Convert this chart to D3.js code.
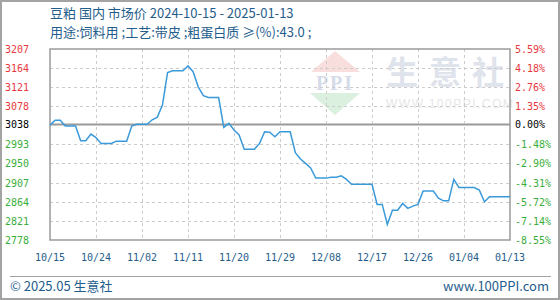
<!DOCTYPE html>
<html>
<head>
<meta charset="utf-8">
<style>
  body {margin: 0; background: #fff;}
  text {font-family: "Noto Sans CJK SC", "Noto Sans", sans-serif;}
  .num {font-family: "DejaVu Sans Mono", monospace; font-size: 10px;}
</style>
<script src="https://d3js.org/d3.v7.min.js"></script>
</head>
<body>
<div id="chart"></div>
<script>

  // price data
  const dates = ['2024-10-15','2024-10-16','2024-10-17','2024-10-18','2024-10-20','2024-10-21','2024-10-22','2024-10-23',
    '2024-10-24','2024-10-25','2024-10-27','2024-10-28','2024-10-30','2024-10-31','2024-11-01','2024-11-03',
    '2024-11-04','2024-11-05','2024-11-06','2024-11-07','2024-11-08','2024-11-10','2024-11-11','2024-11-12',
    '2024-11-13','2024-11-14','2024-11-15','2024-11-17','2024-11-18','2024-11-19','2024-11-20','2024-11-21',
    '2024-11-22','2024-11-24','2024-11-25','2024-11-26','2024-11-27','2024-11-28','2024-11-29','2024-12-01',
    '2024-12-02','2024-12-03','2024-12-04','2024-12-05','2024-12-06','2024-12-08','2024-12-09','2024-12-10',
    '2024-12-11','2024-12-12','2024-12-13','2024-12-17','2024-12-18','2024-12-19','2024-12-20','2024-12-21',
    '2024-12-22','2024-12-23','2024-12-24','2024-12-25','2024-12-26','2024-12-27','2024-12-29','2024-12-30',
    '2024-12-31','2025-01-01','2025-01-02','2025-01-03','2025-01-06','2025-01-07','2025-01-08','2025-01-09',
    '2025-01-13']
  const prices = [3036,3047,3047,3034,3034,3001,3001,3016,
    3008,2995,2995,3000,3000,3034,3038,3038,
    3048,3054,3081,3154,3158,3158,3169,3156,
    3122,3102,3098,3098,3031,3040,3025,3014,
    2982,2982,2995,3021,3020,3010,3021,3021,
    2974,2960,2950,2940,2917,2917,2919,2919,
    2922,2914,2903,2903,2858,2858,2813,2845,
    2845,2860,2849,2854,2858,2888,2888,2872,
    2866,2866,2914,2896,2896,2890,2864,2875,
    2875]

  const xTickLabels = ['10/15','10/24','11/02','11/11','11/20','11/29','12/08','12/17','12/26','01/04','01/13']
  const xTickDates = ['2024-10-15','2024-10-24','2024-11-02','2024-11-11','2024-11-20','2024-11-29',
    '2024-12-08','2024-12-17','2024-12-26','2025-01-04','2025-01-13']
  const yTicks = [3207,3164,3121,3078,3038,2993,2950,2907,2864,2821,2778]
  const pctLabels = ['5.59%','4.18%','2.76%','1.35%','0.00%','-1.48%','-2.90%','-4.31%','-5.72%','-7.14%','-8.55%']
  const basePrice = 3038

  const title1 = '豆粕 国内 市场价 2024-10-15 - 2025-01-13'
  const title2 = '用途:饲料用 ;工艺:带皮 ;粗蛋白质 ≥(%):43.0 ;'

  const width = 560, height = 300
  const plot = {left: 50, right: 510, top: 49, bottom: 240}
  const blue = '#1f5d8c'

  const parse = d3.utcParse('%Y-%m-%d')
  const data = dates.map((d, i) => ({date: parse(d), value: prices[i]}))

  const x = d3.scaleUtc()
    .domain([parse(xTickDates[0]), parse(xTickDates[xTickDates.length - 1])])
    .range([plot.left, plot.right])
  const y = d3.scaleLinear()
    .domain([2778, 3207])
    .range([plot.bottom, plot.top])

  const svg = d3.select('#chart').append('svg')
    .attr('width', width)
    .attr('height', height)

  svg.append('rect')
    .attr('x', 1).attr('y', 1)
    .attr('width', width - 2).attr('height', height - 2)
    .attr('fill', '#fff')
    .attr('stroke', '#a3a3a3')
    .attr('stroke-width', 2)

  // watermark
  const wm = svg.append('g')
  wm.append('path')
    .attr('d', 'M311,72L335,51L360,72Z')
    .attr('fill', '#f9dede')
  wm.append('path')
    .attr('d', 'M310,93L360,93L335,115Z')
    .attr('fill', '#dcf0df')
  wm.append('text')
    .attr('x', 335).attr('y', 90)
    .attr('text-anchor', 'middle')
    .style('font-family', 'Liberation Serif')
    .style('font-size', '20px')
    .style('font-weight', 'bold')
    .style('letter-spacing', '2px')
    .attr('fill', '#d5dbe8')
    .text('PPI')
  wm.append('text')
    .attr('x', 386).attr('y', 84)
    .style('font-size', '32px')
    .style('font-weight', 'bold')
    .style('letter-spacing', '11px')
    .attr('fill', '#dfe3ec')
    .text('生意社')
  wm.append('text')
    .attr('x', 386).attr('y', 108)
    .style('font-family', 'Liberation Sans')
    .style('font-size', '12px')
    .style('letter-spacing', '1.5px')
    .attr('fill', '#e6e6e6')
    .text('WWW.100PPI.COM')

  // grid
  const grid = svg.append('g')
  grid.selectAll('line.h')
    .data(yTicks.slice(1, -1))
    .enter().append('line')
    .attr('x1', plot.left).attr('x2', plot.right)
    .attr('y1', d => Math.round(y(d)) + 0.5)
    .attr('y2', d => Math.round(y(d)) + 0.5)
    .attr('stroke', d => d === basePrice ? '#999' : '#cccccc')
    .attr('stroke-width', d => d === basePrice ? 2 : 1)
    .attr('stroke-dasharray', d => d === basePrice ? null : '3,3')
  grid.selectAll('line.v')
    .data(xTickDates.slice(1, -1))
    .enter().append('line')
    .attr('x1', d => Math.round(x(parse(d))) + 0.5)
    .attr('x2', d => Math.round(x(parse(d))) + 0.5)
    .attr('y1', plot.top).attr('y2', plot.bottom)
    .attr('stroke', '#cccccc')
    .attr('stroke-dasharray', '3,3')

  svg.append('rect')
    .attr('x', plot.left).attr('y', plot.top)
    .attr('width', plot.right - plot.left)
    .attr('height', plot.bottom - plot.top)
    .attr('fill', 'none')
    .attr('stroke', '#9a9a9a')
    .attr('stroke-width', 1.5)

  // price line
  const line = d3.line()
    .x(d => x(d.date))
    .y(d => y(d.value))
  svg.append('path')
    .datum(data)
    .attr('d', line)
    .attr('fill', 'none')
    .attr('stroke', '#3a9ad9')
    .attr('stroke-width', 1.5)

  // axes labels
  const colorFor = v => v > basePrice ? '#e8383d' : (v < basePrice ? '#3aae3a' : '#000')
  svg.append('g').selectAll('text')
    .data(yTicks)
    .enter().append('text')
    .attr('class', 'num')
    .attr('x', 29)
    .attr('y', d => y(d) + 4)
    .attr('text-anchor', 'end')
    .attr('fill', colorFor)
    .text(d => d)
  svg.append('g').selectAll('text')
    .data(yTicks)
    .enter().append('text')
    .attr('class', 'num')
    .attr('x', 515)
    .attr('y', d => y(d) + 4)
    .attr('fill', colorFor)
    .text((d, i) => pctLabels[i])
  svg.append('g').selectAll('text')
    .data(xTickDates)
    .enter().append('text')
    .attr('class', 'num')
    .attr('x', d => x(parse(d)))
    .attr('y', 261)
    .attr('text-anchor', 'middle')
    .attr('fill', blue)
    .text((d, i) => xTickLabels[i])

  // titles
  svg.append('text')
    .attr('x', 50).attr('y', 18)
    .style('font-size', '13px')
    .attr('fill', blue)
    .text(title1)
  svg.append('text')
    .attr('x', 50).attr('y', 37)
    .style('font-size', '13px')
    .attr('fill', blue)
    .text(title2)

  // footer
  svg.append('line')
    .attr('x1', 10).attr('x2', 551)
    .attr('y1', 276.5).attr('y2', 276.5)
    .attr('stroke', '#a3a3a3')
  svg.append('text')
    .attr('x', 10).attr('y', 291)
    .style('font-size', '13px')
    .attr('fill', blue)
    .text('© 2025.05 生意社')
  svg.append('text')
    .attr('x', 549).attr('y', 291)
    .attr('text-anchor', 'end')
    .style('font-size', '13px')
    .attr('fill', blue)
    .text('www.100PPI.com')

</script>
</body>
</html>
